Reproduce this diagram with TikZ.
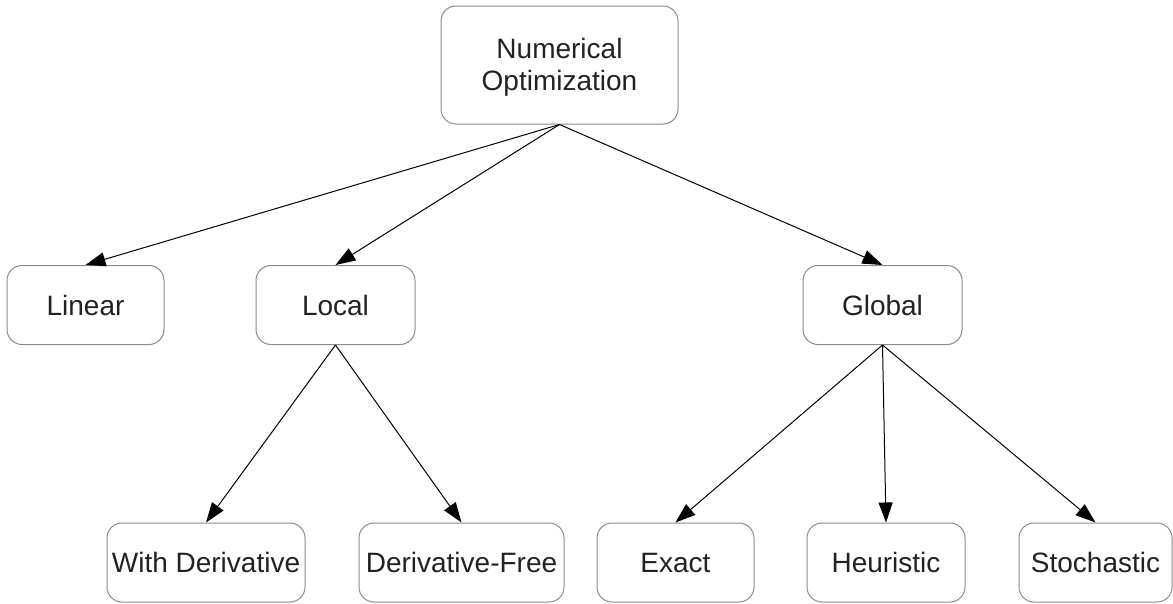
\documentclass[tikz,border=0pt]{standalone}
\usepackage{fontspec}
\setmainfont{Liberation Sans}
\usetikzlibrary{arrows.meta}
\definecolor{boxgray}{HTML}{8C8C8C}
\definecolor{txt}{HTML}{222222}
\tikzset{
  box/.style={draw=boxgray, line width=1pt, rounded corners=15pt, rectangle,
    inner sep=0pt, align=center, text=txt,
    font=\fontsize{28}{32.5}\selectfont},
  conn/.style={draw=black, line width=1pt, -{Triangle[length=20pt,width=14pt]}}
}
\begin{document}
\begin{tikzpicture}[x=1pt,y=-1pt]
\useasboundingbox (0,0) rectangle (1173,603);
\node[box, minimum width=237pt, minimum height=118pt] (root) at (559.5,65)
  {\raisebox{-3pt}[\height][\depth]{\begin{tabular}{@{}c@{}}Numerical\\Optimization\end{tabular}}};
\node[box, minimum width=157pt, minimum height=79pt] (linear) at (85.5,305) {Linear};
\node[box, minimum width=159pt, minimum height=79pt] (local) at (335.5,305) {Local};
\node[box, minimum width=159pt, minimum height=79pt, text depth=0pt] (global) at (882.5,305) {Global};
\node[box, minimum width=198pt, minimum height=79pt] (withd) at (206,562.5) {With Derivative};
\node[box, minimum width=205pt, minimum height=79pt] (dfree) at (461.5,562.5) {Derivative-Free};
\node[box, minimum width=157pt, minimum height=79pt] (exact) at (675.5,562.5) {Exact};
\node[box, minimum width=158pt, minimum height=79pt] (heur) at (886,562.5) {Heuristic};
\node[box, minimum width=153pt, minimum height=79pt] (stoch) at (1095.5,562.5) {Stochastic};
\draw[conn] (root.south) -- (linear.north);
\draw[conn] (root.south) -- (local.north);
\draw[conn] (root.south) -- (global.north);
\draw[conn] (local.south) -- (withd.north);
\draw[conn] (local.south) -- (dfree.north);
\draw[conn] (global.south) -- (exact.north);
\draw[conn] (global.south) -- (heur.north);
\draw[conn] (global.south) -- (stoch.north);
\end{tikzpicture}
\end{document}
